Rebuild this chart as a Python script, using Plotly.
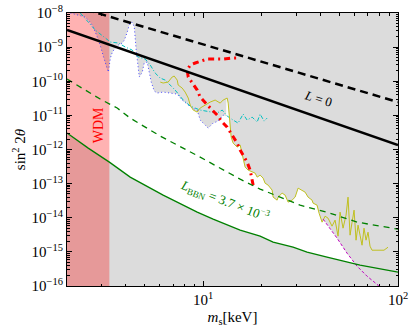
import numpy as np
import plotly.graph_objects as go

# masses in keV, mixing angles sin^2(2 theta)
l0_x = [2.0, 4.22, 100.0]
l0_y = [3.2e-9, 7.3e-10, 1.35e-12]

dash_x = [2.5, 100.0]
dash_y = [1.25e-8, 2.45e-11]

bbn_x = [2.0, 2.57, 3.30, 4.22, 6.23, 9.32, 11.25, 15.48, 19.60, 22.86, 28.94,
         34.15, 43.24, 50.42, 63.85, 100.0]
bbn_y = [3.03e-12, 1.10e-12, 4.27e-13, 1.55e-13, 4.60e-14, 1.46e-14, 9.10e-15,
         4.33e-15, 2.89e-15, 1.93e-15, 1.37e-15, 9.80e-16, 6.99e-16, 5.71e-16,
         4.07e-16, 2.54e-16]

bbn2_x = [2.0, 2.34, 2.96, 3.62, 4.22, 6.02, 9.65, 15.48, 19.60, 31.44, 44.80,
          61.63, 100.0]
bbn2_y = [1.16e-10, 6.76e-11, 3.01e-11, 1.64e-11, 8.33e-12, 2.47e-12, 5.98e-13,
          1.35e-13, 6.90e-14, 2.34e-14, 1.36e-14, 7.43e-15, 4.63e-15]

blue_x = [2.08, 2.26, 2.48, 2.63, 2.73, 2.86, 2.96, 3.07, 3.18, 3.26, 3.34, 3.42,
          3.54, 3.67, 3.84, 3.94, 4.08, 4.17, 4.32, 4.43, 4.53, 4.64, 4.70, 4.87,
          4.98, 5.16, 5.29, 5.41, 5.61, 5.81, 6.23, 6.77, 7.36, 7.80, 8.28, 8.78,
          9.32, 9.65, 10.24, 10.61, 11.25, 11.94, 12.66, 13.12]
blue_y = [1.0e-8, 8.74e-9, 7.63e-9, 5.44e-9, 3.88e-9, 1.98e-9, 1.15e-9, 5.48e-10,
          2.61e-10, 1.86e-10, 4.79e-10, 7.18e-10, 9.41e-10, 1.15e-9, 1.32e-9,
          1.61e-9, 2.77e-9, 4.45e-9, 5.44e-9, 3.88e-9, 8.22e-10, 2.61e-10,
          1.33e-10, 1.86e-10, 3.42e-10, 3.66e-10, 1.86e-10, 9.47e-11, 5.16e-11,
          4.51e-11, 4.82e-11, 4.51e-11, 4.21e-11, 2.81e-11, 2.14e-11, 1.64e-11,
          1.43e-11, 7.28e-12, 5.19e-12, 4.24e-12, 5.94e-12, 6.80e-12, 1.02e-11,
          9.54e-12]

cyan_x = [2.34, 2.48, 2.57, 2.79, 3.14, 3.34, 3.67, 3.98, 4.32, 4.64, 5.04, 5.35,
          5.67, 6.02, 6.39, 7.18, 7.90, 8.58, 9.65, 10.86, 11.80, 12.52, 13.28,
          14.25, 15.11, 16.04, 16.81, 17.83, 18.92, 19.60, 20.55, 21.29]
cyan_y = [1.0e-8, 7.13e-9, 5.44e-9, 3.17e-9, 1.85e-9, 1.41e-9, 1.32e-9, 1.01e-9,
          8.22e-10, 5.12e-10, 4.48e-10, 2.99e-10, 1.74e-10, 1.24e-10, 1.08e-10,
          5.52e-11, 2.81e-11, 1.87e-11, 1.43e-11, 1.25e-11, 1.17e-11, 1.43e-11,
          9.54e-12, 7.28e-12, 5.94e-12, 1.09e-11, 7.28e-12, 8.91e-12, 6.36e-12,
          1.09e-11, 6.80e-12, 8.33e-12]

red_x = [18.05, 17.42, 16.81, 16.04, 15.48, 14.94, 14.59, 14.09, 13.28, 12.52,
         11.80, 11.12, 10.24, 9.65, 9.32, 8.78, 8.38, 8.28, 8.58, 9.10, 9.65,
         10.48, 11.52, 12.66, 14.09, 15.48]
red_y = [9.04e-14, 2.49e-13, 4.27e-13, 6.85e-13, 9.60e-13, 1.54e-12, 1.89e-12,
         2.64e-12, 4.54e-12, 6.36e-12, 1.02e-11, 1.43e-11, 2.29e-11, 3.44e-11,
         5.52e-11, 8.86e-11, 1.33e-10, 2.13e-10, 2.99e-10, 3.42e-10, 3.91e-10,
         4.48e-10, 4.48e-10, 4.48e-10, 4.79e-10, 4.79e-10]

yel_x = [6.02, 6.23, 6.61, 6.93, 7.10, 7.36, 7.44, 7.80, 8.08, 8.38, 8.58, 8.89,
         9.32, 9.65, 10.24, 10.86, 11.52, 12.23, 12.66, 13.28, 13.44, 13.60, 13.76,
         13.92, 14.25, 14.94, 15.48, 15.85, 16.04, 16.42, 17.01, 17.83, 18.48,
         18.92, 19.60, 20.31, 20.79, 21.54, 22.59, 22.86, 23.96, 24.24, 25.42,
         26.34, 27.29, 28.60, 29.64, 30.71, 32.19, 33.35, 34.56, 36.22, 36.65,
         38.42, 39.35, 40.77, 42.24, 43.75, 45.86, 47.53, 49.24, 50.42, 52.24,
         54.12, 55.41, 56.75, 58.11, 59.50, 60.91, 62.36, 63.85, 65.38, 66.93,
         68.54, 70.18, 71.84, 73.55, 78.96, 84.75, 88.85]
yel_y = [9.47e-11, 8.86e-11, 9.47e-11, 1.33e-10, 1.42e-10, 1.08e-10, 7.74e-11,
         6.32e-11, 4.82e-11, 3.22e-11, 2.00e-11, 1.43e-11, 1.25e-11, 1.64e-11,
         2.00e-11, 2.45e-11, 2.81e-11, 2.29e-11, 2.81e-11, 3.22e-11, 2.29e-11,
         8.91e-12, 4.54e-12, 2.31e-12, 1.54e-12, 1.18e-12, 1.35e-12, 7.84e-13,
         4.89e-13, 3.05e-13, 2.49e-13, 2.17e-13, 2.03e-13, 1.55e-13, 1.77e-13,
         1.45e-13, 1.03e-13, 9.04e-14, 6.45e-14, 4.02e-14, 3.28e-14, 4.02e-14,
         5.26e-14, 4.60e-14, 2.87e-14, 3.28e-14, 4.02e-14, 7.38e-14, 6.45e-14,
         5.63e-14, 4.02e-14, 3.28e-14, 2.68e-14, 2.34e-14, 1.36e-14, 7.43e-15,
         1.11e-14, 9.73e-15, 5.67e-15, 8.51e-15, 2.89e-15, 1.46e-14, 4.95e-15,
         1.19e-14, 4.02e-14, 3.09e-15, 7.43e-15, 1.67e-14, 2.20e-15, 6.07e-15,
         3.09e-15, 1.57e-15, 4.95e-15, 2.20e-15, 3.78e-15, 1.47e-15, 1.12e-15,
         1.12e-15, 1.12e-15, 1.37e-15]

mag_x = [41.26, 44.80, 48.67, 54.76, 61.63, 69.35, 78.96, 82.8]
mag_y = [9.10e-15, 4.95e-15, 2.52e-15, 9.16e-16, 3.81e-16, 1.94e-16, 1.06e-16, 7.5e-17]

wdm_edge = 3.3
x_min, x_max = 2.0, 100.0
y_min, y_max = 1e-16, 1e-8

FONT = "Liberation Serif"


def logi(xs, ys, g, right=np.nan):
    return 10 ** np.interp(np.log10(g), np.log10(xs), np.log10(ys),
                           left=np.nan, right=right)


# allowed (white) region: above the green curve, below the lowest bound
grid = np.logspace(np.log10(x_min), np.log10(x_max), 900)
bounds = np.vstack([logi(blue_x, blue_y, grid),
                    logi(yel_x, yel_y, grid),
                    logi(mag_x, mag_y, grid, right=-18)])
finite = np.where(np.isnan(bounds), np.inf, bounds)
upper = np.where(np.isinf(finite.min(axis=0)), y_max, finite.min(axis=0))
lower = logi(bbn_x, bbn_y, grid)
top = np.maximum(upper, lower)

fig = go.Figure()

fig.add_trace(go.Scatter(x=np.concatenate([grid, grid[::-1]]),
                         y=np.concatenate([top, lower[::-1]]),
                         fill="toself", fillcolor="white", mode="none"))
fig.add_trace(go.Scatter(x=[x_min, wdm_edge, wdm_edge, x_min],
                         y=[y_min, y_min, y_max, y_max],
                         fill="toself", fillcolor="rgba(255,0,0,0.3)", mode="none"))

fig.add_trace(go.Scatter(x=blue_x, y=blue_y, mode="lines",
                         line=dict(color="#4848ff", width=1, dash="1px,2.5px")))
fig.add_trace(go.Scatter(x=cyan_x, y=cyan_y, mode="lines",
                         line=dict(color="#00c0c0", width=1, dash="4px,2px,1px,2px")))
fig.add_trace(go.Scatter(x=yel_x, y=yel_y, mode="lines",
                         line=dict(color="#c0c020", width=1)))
fig.add_trace(go.Scatter(x=mag_x, y=mag_y, mode="lines",
                         line=dict(color="#c000c0", width=1, dash="3px,2px")))
fig.add_trace(go.Scatter(x=red_x, y=red_y, mode="lines",
                         line=dict(color="red", width=3, dash="6px,4px,2px,4px")))
fig.add_trace(go.Scatter(x=bbn_x, y=bbn_y, mode="lines",
                         line=dict(color="green", width=1.3)))
fig.add_trace(go.Scatter(x=bbn2_x, y=bbn2_y, mode="lines",
                         line=dict(color="green", width=1.3, dash="6px,5px")))
fig.add_trace(go.Scatter(x=l0_x, y=l0_y, mode="lines",
                         line=dict(color="black", width=2.5)))
fig.add_trace(go.Scatter(x=dash_x, y=dash_y, mode="lines",
                         line=dict(color="black", width=2.5, dash="8px,5px")))

fig.add_annotation(x=np.log10(38.9), y=np.log10(3.2e-11), text="<i>L</i> = 0",
                   showarrow=False, textangle=17,
                   font=dict(family=FONT, size=13, color="black"))
fig.add_annotation(x=np.log10(12.97), y=np.log10(3.07e-14),
                   text="<i>L</i><sub>BBN</sub> = 3.7 × 10<sup>−3</sup>",
                   showarrow=False, textangle=21,
                   font=dict(family=FONT, size=13, color="green"))
fig.add_annotation(x=np.log10(2.89), y=np.log10(5.2e-12), text="WDM",
                   showarrow=False, textangle=-90,
                   font=dict(family=FONT, size=14, color="red"))

x_minor = [d * 10 ** e for e in (0, 1) for d in range(2, 10)]
y_minor = [d * 10.0 ** e for e in range(-16, -8) for d in range(2, 10)]
y_major = [10.0 ** e for e in range(-16, -7)]

axis_common = dict(type="log", showline=True, linecolor="black", linewidth=1,
                   mirror="allticks", ticks="inside", ticklen=5, tickcolor="black",
                   showgrid=False, zeroline=False, automargin=False,
                   tickfont=dict(family=FONT, size=15, color="black"))

fig.update_xaxes(**axis_common, range=[np.log10(x_min), np.log10(x_max)],
                 tickvals=[10, 100], ticktext=["10<sup>1</sup>", "10<sup>2</sup>"],
                 minor=dict(tickvals=x_minor, ticks="inside", ticklen=2.5,
                            tickcolor="black", showgrid=False),
                 title=dict(text="<i>m</i><sub>s</sub>[keV]", standoff=4,
                            font=dict(family=FONT, size=15, color="black")))
fig.update_yaxes(**axis_common, range=[-16, -8],
                 tickvals=y_major,
                 ticktext=["10<sup>−%d</sup>" % -e for e in range(-16, -7)],
                 minor=dict(tickvals=y_minor, ticks="inside", ticklen=2.5,
                            tickcolor="black", showgrid=False),
                 title=dict(text="sin<sup>2</sup> 2<i>θ</i>", standoff=2,
                            font=dict(family=FONT, size=15, color="black")))

fig.update_layout(width=415, height=332, showlegend=False, hovermode=False,
                  margin=dict(l=67, r=17, t=13, b=46),
                  plot_bgcolor="#dcdcdc", paper_bgcolor="white")

fig.write_html("out.html", config={"displayModeBar": False},
               post_script="document.body.style.margin = '0';")
